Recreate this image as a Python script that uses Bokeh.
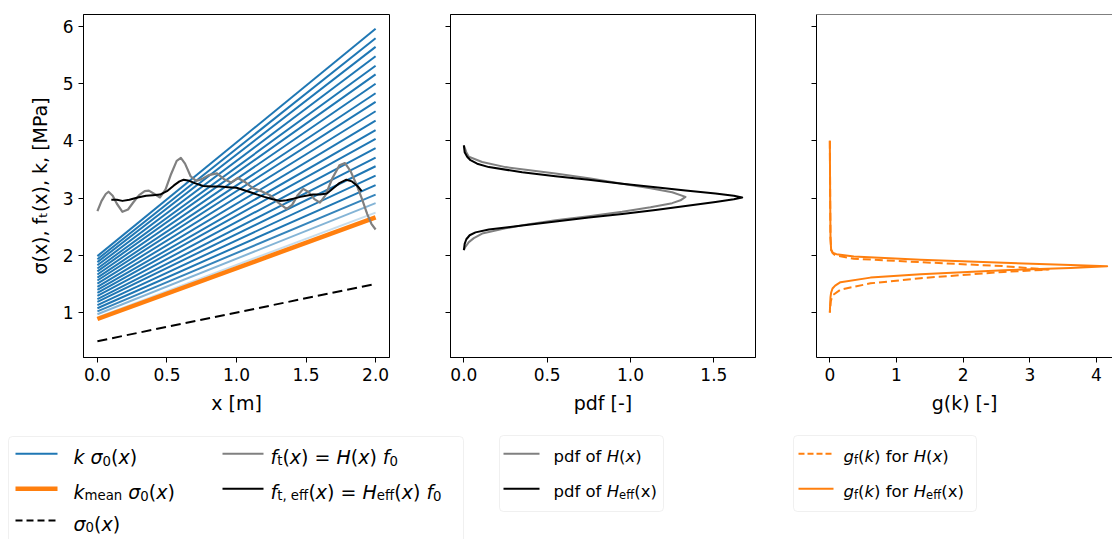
import numpy as np
from bokeh.plotting import figure
from bokeh.models import (Range1d, FixedTicker, PrintfTickFormatter, CustomJSTickFormatter,
                          ColumnDataSource, Span, BoxAnnotation)
from bokeh.layouts import row, column
from bokeh.core.properties import value
from bokeh.embed import file_html
from bokeh.resources import INLINE

# ---------------- data ----------------
x_line = [0.0, 2.0]
sigma0 = [0.5, 1.5]                      # sigma_0(x) at x = 0 m and x = 2 m
k_lines = [1.83, 1.94, 2.04, 2.15, 2.26, 2.37, 2.47, 2.58, 2.69, 2.79, 2.90,
           3.01, 3.12, 3.22, 3.33, 3.44, 3.54, 3.65, 3.76, 3.86, 3.97]
k_alpha = [0.25, 0.55, 0.9, 1, 1, 1, 1, 1, 1, 1, 1, 1, 1, 1, 1, 1, 1, 1, 1, 1, 1]
k_mean = 1.775

ft_x = [0.00, 0.03, 0.06, 0.08, 0.11, 0.14, 0.18, 0.22, 0.26, 0.30, 0.34, 0.37,
        0.41, 0.45, 0.49, 0.53, 0.57, 0.60, 0.63, 0.67, 0.71, 0.75, 0.80, 0.86,
        0.91, 0.96, 1.01, 1.06, 1.12, 1.18, 1.24, 1.30, 1.36, 1.40, 1.44, 1.48,
        1.52, 1.56, 1.60, 1.64, 1.69, 1.74, 1.78, 1.82, 1.86, 1.90, 1.94, 1.97, 2.00]
ft_y = [2.77, 2.95, 3.07, 3.11, 3.04, 2.90, 2.76, 2.80, 2.93, 3.05, 3.12, 3.13,
        3.07, 3.01, 3.15, 3.42, 3.65, 3.70, 3.60, 3.38, 3.30, 3.33, 3.40, 3.43,
        3.33, 3.27, 3.35, 3.28, 3.17, 3.12, 3.05, 2.92, 2.81, 2.88, 3.05, 3.16,
        3.10, 2.98, 2.92, 3.05, 3.35, 3.57, 3.61, 3.47, 3.25, 3.00, 2.72, 2.55, 2.45]

fteff_x = [0.10, 0.14, 0.18, 0.23, 0.29, 0.35, 0.40, 0.45, 0.50, 0.55, 0.59, 0.62,
           0.66, 0.70, 0.76, 0.82, 0.88, 0.94, 1.00, 1.05, 1.10, 1.15, 1.20, 1.26,
           1.31, 1.36, 1.41, 1.46, 1.50, 1.55, 1.60, 1.65, 1.70, 1.74, 1.79, 1.83,
           1.87, 1.90]
fteff_y = [2.97, 2.97, 2.95, 2.97, 3.01, 3.04, 3.05, 3.06, 3.12, 3.22, 3.29, 3.32,
           3.30, 3.26, 3.21, 3.20, 3.20, 3.19, 3.18, 3.14, 3.10, 3.06, 3.02, 2.98,
           2.95, 2.96, 2.99, 3.02, 3.04, 3.06, 3.06, 3.08, 3.18, 3.26, 3.32, 3.29,
           3.21, 3.12]

pdfH_y = [3.92, 3.80, 3.72, 3.63, 3.54, 3.43, 3.34, 3.25, 3.17, 3.10, 3.02, 2.96,
          2.91, 2.84, 2.76, 2.68, 2.61, 2.54, 2.47, 2.38, 2.30, 2.23, 2.14, 2.09]
pdfH_v = [0.0, 0.015, 0.03, 0.11, 0.25, 0.55, 0.76, 0.95, 1.12, 1.25, 1.33, 1.30,
          1.25, 1.12, 0.95, 0.75, 0.55, 0.38, 0.25, 0.11, 0.06, 0.03, 0.008, 0.0]

pdfHeff_y = [3.92, 3.80, 3.72, 3.66, 3.60, 3.54, 3.45, 3.38, 3.32, 3.25, 3.19, 3.13,
             3.08, 3.04, 3.01, 2.98, 2.93, 2.86, 2.79, 2.72, 2.66, 2.59, 2.52, 2.45,
             2.40, 2.35, 2.28, 2.20, 2.13, 2.09]
pdfHeff_v = [0.0, 0.005, 0.02, 0.04, 0.08, 0.15, 0.35, 0.55, 0.75, 0.95, 1.15, 1.33,
             1.51, 1.62, 1.67, 1.62, 1.51, 1.33, 1.15, 0.95, 0.75, 0.55, 0.35, 0.15,
             0.07, 0.035, 0.015, 0.005, 0.002, 0.0]

gH_k = [4.00, 3.00, 2.30, 2.10, 2.04, 2.00, 1.94, 1.88, 1.81, 1.75, 1.71, 1.60,
        1.51, 1.40, 1.30, 1.20, 1.00]
gH_v = [0.0, 0.005, 0.01, 0.02, 0.04, 0.08, 0.36, 1.36, 2.61, 3.28, 2.61, 1.36,
        0.61, 0.16, 0.04, 0.015, 0.0]

gHeff_k = [4.00, 3.00, 2.30, 2.09, 2.04, 2.02, 1.98, 1.92, 1.87, 1.83, 1.81, 1.78,
           1.74, 1.67, 1.61, 1.53, 1.47, 1.42, 1.35, 1.27, 1.15, 1.00]
gHeff_v = [0.0, 0.005, 0.01, 0.02, 0.05, 0.10, 0.36, 1.36, 2.61, 3.61, 4.16, 3.61,
           2.61, 1.36, 0.61, 0.16, 0.08, 0.04, 0.02, 0.01, 0.005, 0.0]

y_ticks = [1, 2, 3, 4, 5, 6]
x1_ticks = [0.0, 0.5, 1.0, 1.5, 2.0]
x2_ticks = [0.0, 0.5, 1.0, 1.5]
x3_ticks = [0, 1, 2, 3, 4]

BLUE = "#1f77b4"
ORANGE = "#ff7f0e"
GRAY = "#808080"
FONT = "DejaVu Sans"

# ---------------- rich text helper (DejaVu Sans advances / 2048) ----------------
ADV = {' ': 651, '(': 799, ')': 799, ',': 651, '.': 651, '=': 1716, '[': 799, ']': 799,
       '-': 739, 'a': 1255, 'b': 1300, 'c': 1126, 'd': 1300, 'e': 1260, 'f': 721,
       'g': 1300, 'h': 1298, 'i': 569, 'k': 1186, 'l': 569, 'm': 1995, 'n': 1298,
       'o': 1253, 'p': 1300, 'r': 842, 's': 1067, 't': 803, 'x': 1212, 'H': 1540,
       'M': 1767, 'P': 1235, 'σ': 1300}
for d in "0123456789":
    ADV[d] = 1303


def text_width(s, size):
    return sum(ADV.get(c, 1200) for c in s) / 2048.0 * size


def rich(segs, x0, y0, fs):
    """Lay out (text, kind) pieces: 'n' upright, 'i' italic, 's' upright subscript."""
    out = dict(x=[], y=[], t=[], s=[], st=[])
    pos = 0.0
    for txt, kind in segs:
        sub = kind == "s"
        size = fs * 0.7 if sub else fs
        off = 0.2 * fs if sub else 0.0
        body = txt.lstrip(" ")
        pos += text_width(txt[:len(txt) - len(body)], size)   # leading spaces are not drawn in SVG
        if body.strip():
            out["x"].append(x0 + pos)
            out["y"].append(y0 + off)
            out["t"].append(body.rstrip(" "))
            out["s"].append("%.1fpx" % size)
            out["st"].append("italic" if kind == "i" else "normal")
        pos += text_width(body, size)
    return out


def merge(*ds):
    m = dict(x=[], y=[], t=[], s=[], st=[])
    for d in ds:
        for k in m:
            m[k] += d[k]
    return m


def style(p, xticks, fmt, xlabel, ylabels=True):
    p.grid.visible = False
    p.background_fill_color = "white"
    p.border_fill_color = "white"
    p.outline_line_color = "black"
    p.outline_line_width = 1
    for ax in p.axis:
        ax.axis_line_color = "black"
        ax.major_tick_line_color = "black"
        ax.minor_tick_line_color = None
        ax.major_tick_out = 5
        ax.major_tick_in = 0
        ax.major_label_text_font = FONT
        ax.major_label_text_font_size = "17px"
        ax.major_label_text_color = "black"
        ax.major_label_standoff = 5
        ax.axis_label_text_font = FONT
        ax.axis_label_text_font_size = "19px"
        ax.axis_label_text_font_style = "normal"
        ax.axis_label_text_color = "black"
        ax.axis_label_standoff = 8
    p.xaxis.ticker = FixedTicker(ticks=xticks)
    p.xaxis.formatter = PrintfTickFormatter(format=fmt)
    p.xaxis.axis_label = xlabel
    p.yaxis.ticker = FixedTicker(ticks=y_ticks)
    if not ylabels:
        p.yaxis.formatter = CustomJSTickFormatter(code="return ''")


YR = (0.215, 6.205)
common = dict(frame_height=343, min_border_top=14, min_border_bottom=63,
              toolbar_location=None, output_backend="svg")

# ---------------- panel 1 ----------------
p1 = figure(frame_width=306, min_border_left=83, min_border_right=31,
            x_range=Range1d(-0.1, 2.1), y_range=Range1d(*YR), **common)
style(p1, x1_ticks, "%.1f", "x [m]")
p1.yaxis.axis_label = "σ(x), fₜ(x), k, [MPa]"
p1.yaxis.axis_label_standoff = 9
blue_src = ColumnDataSource(dict(xs=[x_line for _ in k_lines],
                                 ys=[[k * s for s in sigma0] for k in k_lines],
                                 a=k_alpha))
p1.multi_line(xs="xs", ys="ys", line_alpha="a", line_color=BLUE, line_width=2, source=blue_src)
p1.line(x_line, [k_mean * s for s in sigma0], line_color=ORANGE, line_width=4.5)
p1.line(x_line, sigma0, line_color="black", line_width=2, line_dash="10 5")
p1.line(ft_x, ft_y, line_color=GRAY, line_width=2.2, line_join="round")
p1.line(fteff_x, fteff_y, line_color="black", line_width=2, line_join="round")

# ---------------- panel 2 ----------------
p2 = figure(frame_width=305, min_border_left=30, min_border_right=30,
            x_range=Range1d(-0.08, 1.75), y_range=Range1d(*YR), **common)
style(p2, x2_ticks, "%.1f", "pdf [-]", ylabels=False)
p2.line(pdfH_v, pdfH_y, line_color=GRAY, line_width=2, line_join="round")
p2.line(pdfHeff_v, pdfHeff_y, line_color="black", line_width=2, line_join="round")

# ---------------- panel 3 ----------------
p3 = figure(frame_width=296, min_border_left=31, min_border_right=0,
            x_range=Range1d(-0.2, 4.24), y_range=Range1d(*YR), **common)
style(p3, x3_ticks, "%d", "g(k) [-]", ylabels=False)
p3.outline_line_color = None
p3.add_layout(Span(location=YR[1], dimension="width", line_color="black", line_width=1))
p3.line(gH_v, gH_k, line_color=ORANGE, line_width=2, line_dash="8 4", line_join="round")
p3.line(gHeff_v, gHeff_k, line_color=ORANGE, line_width=2, line_join="round")

# ---------------- legends ----------------
leg = figure(width=1112, height=119, x_range=Range1d(0, 1112), y_range=Range1d(119, 0),
             min_border=0, x_axis_type=None, y_axis_type=None,
             toolbar_location=None, output_backend="svg")
leg.outline_line_color = None
leg.background_fill_color = "white"
leg.border_fill_color = "white"
for (l, r, t, b) in [(8, 463, 16, 125), (499, 663, 15, 91), (793, 976, 15, 91)]:
    leg.add_layout(BoxAnnotation(left=l, right=r, top=t, bottom=b, fill_color="white",
                                 fill_alpha=1, line_color="#cccccc", line_width=1,
                                 border_radius=4, level="underlay"))

rows = [33.3, 68.3, 100.0]
# sample lines
leg.line([15, 57], [rows[0], rows[0]], line_color=BLUE, line_width=2)
leg.line([15, 57], [rows[1], rows[1]], line_color=ORANGE, line_width=4.5)
leg.line([15, 57], [rows[2], rows[2]], line_color="black", line_width=2, line_dash="7 4")
leg.line([222, 263], [rows[0], rows[0]], line_color=GRAY, line_width=2)
leg.line([222, 263], [rows[1], rows[1]], line_color="black", line_width=2)
leg.line([503, 539], [rows[0], rows[0]], line_color=GRAY, line_width=2)
leg.line([503, 539], [rows[1], rows[1]], line_color="black", line_width=2)
leg.line([798, 833], [rows[0], rows[0]], line_color=ORANGE, line_width=2, line_dash="6 3")
leg.line([798, 833], [rows[1], rows[1]], line_color=ORANGE, line_width=2)

F1 = 19
F2 = 16.5
b1 = 3.0
texts = merge(
    rich([("k", "i"), (" ", "n"), ("σ", "i"), ("0", "s"), ("(", "n"), ("x", "i"), (")", "n")],
         73, rows[0] + b1, F1),
    rich([("k", "i"), ("mean", "s"), (" ", "n"), ("σ", "i"), ("0", "s"), ("(", "n"), ("x", "i"), (")", "n")],
         73, rows[1] + b1, F1),
    rich([("σ", "i"), ("0", "s"), ("(", "n"), ("x", "i"), (")", "n")],
         73, rows[2] + b1, F1),
    rich([("f", "i"), ("t", "s"), ("(", "n"), ("x", "i"), (") = ", "n"), ("H", "i"), ("(", "n"),
          ("x", "i"), (") ", "n"), ("f", "i"), ("0", "s")],
         270, rows[0] + b1, F1),
    rich([("f", "i"), ("t, eff", "s"), ("(", "n"), ("x", "i"), (") = ", "n"), ("H", "i"), ("eff", "s"),
          ("(", "n"), ("x", "i"), (") ", "n"), ("f", "i"), ("0", "s")],
         270, rows[1] + b1, F1),
    rich([("pdf of ", "n"), ("H", "i"), ("(", "n"), ("x", "i"), (")", "n")],
         553, rows[0] + b1, F2),
    rich([("pdf of ", "n"), ("H", "i"), ("eff", "s"), ("(x)", "n")],
         553, rows[1] + b1, F2),
    rich([("g", "i"), ("f", "s"), ("(", "n"), ("k", "i"), (") for ", "n"), ("H", "i"), ("(", "n"),
          ("x", "i"), (")", "n")],
         843, rows[0] + b1, F2),
    rich([("g", "i"), ("f", "s"), ("(", "n"), ("k", "i"), (") for ", "n"), ("H", "i"), ("eff", "s"),
          ("(x)", "n")],
         843, rows[1] + b1, F2),
)
leg.text(x="x", y="y", text="t", text_font_size="s", text_font_style="st",
         text_font=value(FONT), text_color="black", text_align="left",
         text_baseline="alphabetic", source=ColumnDataSource(texts))

layout = column(row(p1, p2, p3), leg)

with open("out.html", "w") as f:
    f.write(file_html(layout, INLINE))
